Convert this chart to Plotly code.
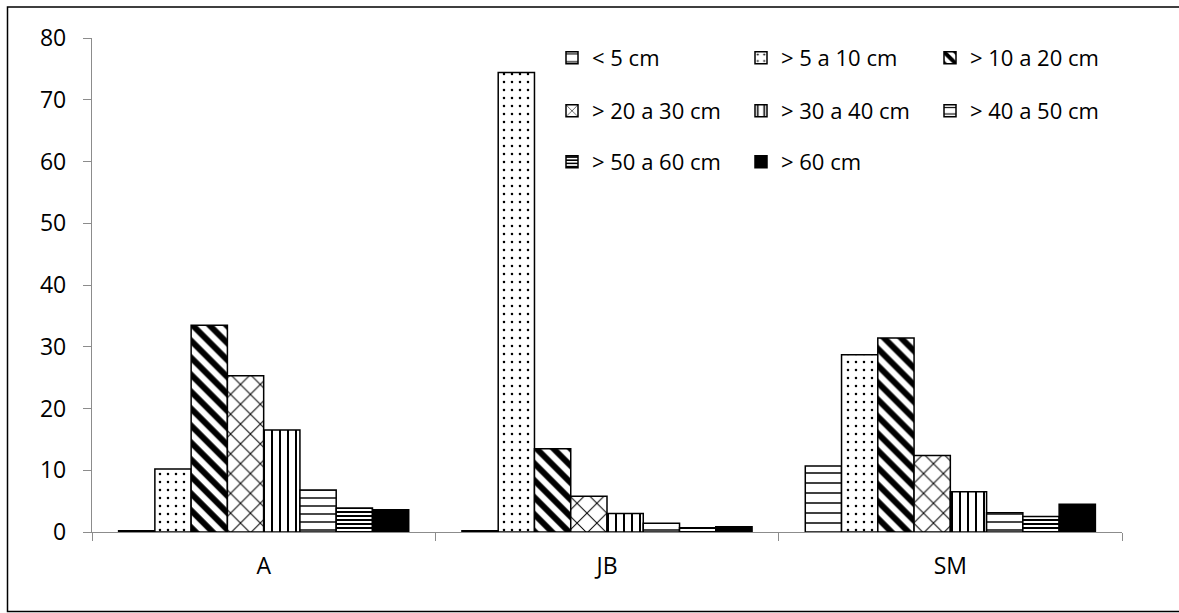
import plotly.graph_objects as go

categories = ["A", "JB", "SM"]
series_names = ["< 5 cm", "> 5 a 10 cm", "> 10 a 20 cm", "> 20 a 30 cm",
                "> 30 a 40 cm", "> 40 a 50 cm", "> 50 a 60 cm", "> 60 cm"]
v_lt5 = [0.2, 0.2, 10.7]
v_5_10 = [10.2, 74.4, 28.7]
v_10_20 = [33.5, 13.5, 31.4]
v_20_30 = [25.3, 5.8, 12.4]
v_30_40 = [16.5, 3.0, 6.5]
v_40_50 = [6.8, 1.4, 3.1]
v_50_60 = [3.9, 0.7, 2.5]
v_gt60 = [3.6, 0.85, 4.5]
series_values = [v_lt5, v_5_10, v_10_20, v_20_30, v_30_40, v_40_50, v_50_60, v_gt60]
y_ticks = [0, 10, 20, 30, 40, 50, 60, 70, 80]

W, H = 1179, 613
L, R, T, B = 92, 57, 38, 81
PW, PH = W - L - R, H - T - B

patterns = [
    dict(shape="-", size=10, solidity=0.15),
    dict(shape=".", size=8, solidity=0.08),
    dict(shape="\\", size=12, solidity=0.5),
    dict(shape="x", size=14, solidity=0.14),
    dict(shape="|", size=8, solidity=0.25),
    dict(shape="-", size=8, solidity=0.18),
    dict(shape="-", size=4, solidity=0.5),
    None,
]
legend_ids = ["legend", "legend", "legend", "legend2", "legend2", "legend2", "legend3", "legend3"]

fig = go.Figure()
for name, vals, pat, lg in zip(series_names, series_values, patterns, legend_ids):
    if pat is None:
        marker = dict(color="black", line=dict(color="black", width=1.5))
    else:
        marker = dict(color="white", line=dict(color="black", width=1.5),
                      pattern=dict(fgcolor="black", bgcolor="white", fgopacity=1, **pat))
    fig.add_trace(go.Bar(x=categories, y=vals, name=name, marker=marker, legend=lg))

def px_x(p):
    return (p - L) / PW

def px_y(p):
    return (H - B - p) / PH

font = dict(family="Open Sans", size=23, color="black")
leg_font = dict(family="Open Sans", size=22, color="black")
leg_common = dict(orientation="h", xanchor="left", yanchor="middle",
                  entrywidth=144, entrywidthmode="pixels", font=leg_font,
                  bgcolor="rgba(0,0,0,0)", itemwidth=30, traceorder="normal")

fig.update_layout(
    width=W, height=H,
    margin=dict(l=L, r=R, t=T, b=B, pad=0),
    paper_bgcolor="white", plot_bgcolor="white",
    barmode="group", bargap=0.155, bargroupgap=0,
    font=font,
    legend=dict(x=px_x(552), y=px_y(58), **leg_common),
    legend2=dict(x=px_x(552), y=px_y(111), **leg_common),
    legend3=dict(x=px_x(552), y=px_y(162), **leg_common),
    xaxis=dict(showline=True, linecolor="#8c8c8c", linewidth=1.3,
               ticks="outside", tickson="boundaries", ticklen=8, tickcolor="#8c8c8c",
               tickwidth=1.3, showgrid=False, ticklabelstandoff=13),
    yaxis=dict(range=[0, 80], tickvals=y_ticks, showline=True, linecolor="#8c8c8c",
               linewidth=1.3, ticks="outside", ticklen=8, tickcolor="#8c8c8c",
               tickwidth=1.3, showgrid=False, zeroline=False, ticklabelstandoff=12),
    shapes=[dict(type="rect", xref="paper", yref="paper",
                 x0=px_x(7.5), x1=px_x(1190), y0=px_y(611.5), y1=px_y(7),
                 line=dict(color="black", width=1.5), fillcolor="rgba(0,0,0,0)", layer="below")],
    showlegend=True,
)
fig.write_html("out.html", config={"displayModeBar": False},
               post_script="document.body.style.margin='0';document.body.style.padding='0';")
